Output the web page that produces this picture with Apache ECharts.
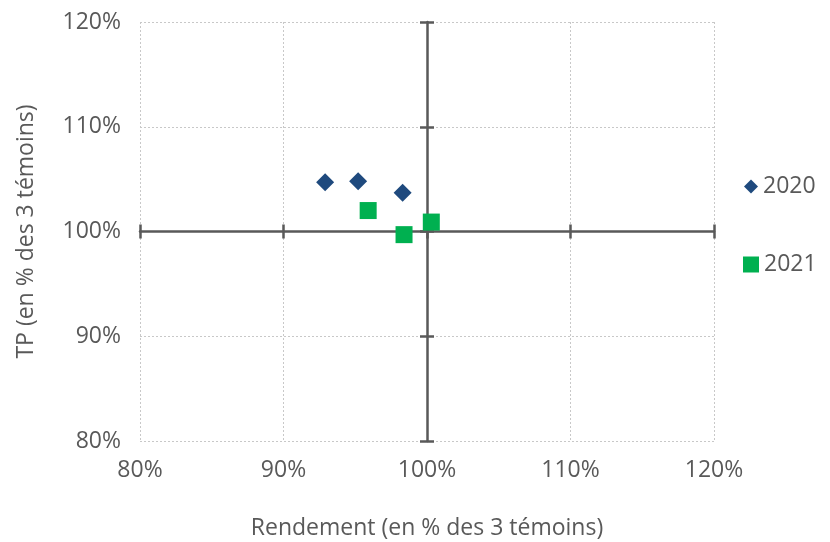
<!DOCTYPE html>
<html><head><meta charset="utf-8">
<script src="https://cdn.jsdelivr.net/npm/echarts@6/dist/echarts.min.js"></script>
<style>html,body{margin:0;padding:0;background:#fff}#c{width:830px;height:542px}</style>
</head><body><div id="c"></div>
<script>
const seriesNames = ['2020', '2021'];
const rendement2020 = [92.9, 95.2, 98.3];
const tp2020 = [104.7, 104.8, 103.7];
const rendement2021 = [95.9, 98.4, 100.3];
const tp2021 = [102.0, 99.7, 100.9];
const xTicks = [80, 90, 100, 110, 120];
const yTicks = [80, 90, 100, 110, 120];
const xName = 'Rendement (en % des 3 témoins)';
const yName = 'TP (en % des 3 témoins)';

const FONT = 'Open Sans';
const FS = 23;
const TXT = '#595959';
const AX = '#595959';
const gridL = 140, gridR = 116, gridT = 22, gridB = 101;
const plotW = 830 - gridL - gridR, plotH = 542 - gridT - gridB;
const xmin = xTicks[0], xmax = xTicks[xTicks.length - 1];
const ymin = yTicks[0], ymax = yTicks[yTicks.length - 1];
const xCross = 100, yCross = 100;
const xAxisOffset = -plotH * (yCross - ymin) / (ymax - ymin);
const yAxisOffset = -plotW * (xCross - xmin) / (xmax - xmin);

const pct = v => v + '%';
const baseX = {type: 'value', min: xmin, max: xmax, interval: 10};
const baseY = {type: 'value', min: ymin, max: ymax, interval: 10};

const chart = echarts.init(document.getElementById('c'));
chart.setOption({
  animation: false,
  textStyle: {fontFamily: FONT},
  grid: {left: gridL, right: gridR, top: gridT, bottom: gridB, containLabel: false, outerBoundsMode: 'none'},
  legend: [
    {data: [seriesNames[0]], left: 739, top: 170, orient: 'vertical', itemWidth: 14, itemHeight: 14, itemGap: 0,
     textStyle: {fontSize: FS, color: TXT, fontFamily: FONT}},
    {data: [seriesNames[1]], left: 738, top: 248, orient: 'vertical', itemWidth: 16, itemHeight: 16, itemGap: 0,
     textStyle: {fontSize: FS, color: TXT, fontFamily: FONT}}
  ],
  xAxis: [
    Object.assign({}, baseX, {
      position: 'bottom',
      axisLine: {show: false}, axisTick: {show: false},
      axisLabel: {formatter: pct, color: TXT, fontSize: FS, margin: 18, fontFamily: FONT},
      splitLine: {show: true, lineStyle: {color: '#c8c8c8', type: [2, 2], width: 1}},
      name: xName, nameLocation: 'middle', nameGap: 76,
      nameTextStyle: {color: TXT, fontSize: FS, fontFamily: FONT}
    }),
    Object.assign({}, baseX, {
      position: 'bottom', offset: xAxisOffset,
      axisLine: {show: true, lineStyle: {color: AX, width: 2.5}},
      axisTick: {show: true, inside: false, length: 7, lineStyle: {color: AX, width: 2.5}},
      axisLabel: {show: false}, splitLine: {show: false}
    }),
    Object.assign({}, baseX, {
      position: 'bottom', offset: xAxisOffset,
      axisLine: {show: false},
      axisTick: {show: true, inside: true, length: 7, lineStyle: {color: AX, width: 2.5}},
      axisLabel: {show: false}, splitLine: {show: false}
    })
  ],
  yAxis: [
    Object.assign({}, baseY, {
      position: 'left',
      axisLine: {show: false}, axisTick: {show: false},
      axisLabel: {formatter: pct, color: TXT, fontSize: FS, margin: 19, fontFamily: FONT},
      splitLine: {show: true, lineStyle: {color: '#c8c8c8', type: [2, 2], width: 1}},
      name: yName, nameLocation: 'middle', nameGap: 102, nameRotate: 90,
      nameTextStyle: {color: TXT, fontSize: FS, fontFamily: FONT}
    }),
    Object.assign({}, baseY, {
      position: 'left', offset: yAxisOffset,
      axisLine: {show: true, lineStyle: {color: AX, width: 2.5}},
      axisTick: {show: true, inside: false, length: 7, lineStyle: {color: AX, width: 2.5}},
      axisLabel: {show: false}, splitLine: {show: false}
    }),
    Object.assign({}, baseY, {
      position: 'left', offset: yAxisOffset,
      axisLine: {show: false},
      axisTick: {show: true, inside: true, length: 7, lineStyle: {color: AX, width: 2.5}},
      axisLabel: {show: false}, splitLine: {show: false}
    })
  ],
  series: [
    {name: seriesNames[0], type: 'scatter', symbol: 'diamond', symbolSize: [18, 18],
     itemStyle: {color: '#1F4A7E', opacity: 1}, z: 5,
     data: rendement2020.map((x, i) => [x, tp2020[i]])},
    {name: seriesNames[1], type: 'scatter', symbol: 'rect', symbolSize: [17, 17],
     itemStyle: {color: '#00B050', opacity: 1}, z: 5,
     data: rendement2021.map((x, i) => [x, tp2021[i]])}
  ]
});
</script></body></html>
